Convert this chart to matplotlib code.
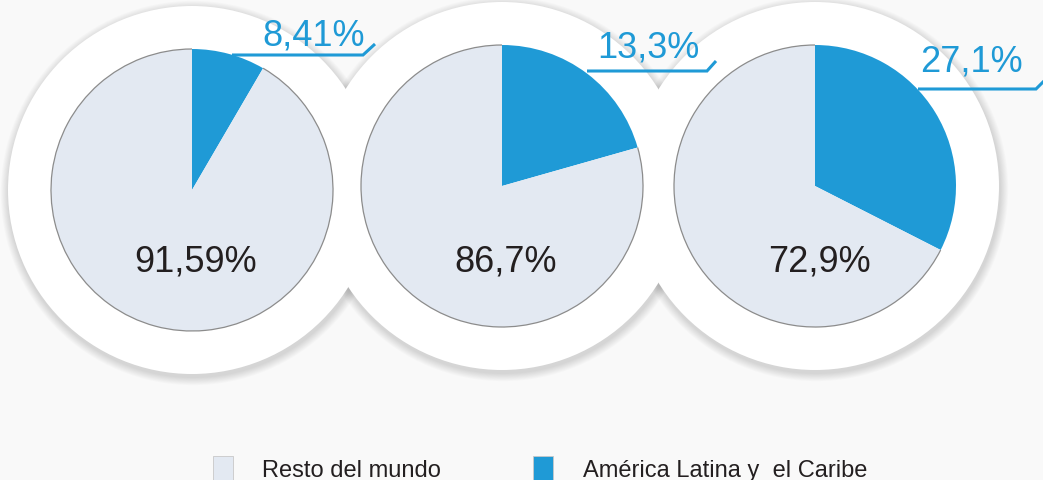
import matplotlib
matplotlib.use("Agg")
import matplotlib.pyplot as plt
from matplotlib.patches import Circle, Arc

# data
regions = ["Resto del mundo", "América Latina y  el Caribe"]
# share of the blue wedge as drawn in each pie (angles)
latam_share = [8.41, 20.6, 32.5]
latam_labels = ["8,41%", "13,3%", "27,1%"]
rest_labels = ["91,59%", "86,7%", "72,9%"]

W, H = 1043, 481
BG = "#f9f9f9"
LIGHT = "#e3e9f2"
BLUE = "#1f9ad6"
EDGE = "#8c8c8c"
DARK = "#231f20"

plt.rcParams['font.family'] = ['Liberation Sans', 'DejaVu Sans']

fig = plt.figure(figsize=(W / 100, H / 100), dpi=100, facecolor=BG)
ax = fig.add_axes([0, 0, 1, 1])
ax.set_facecolor(BG)

def Y(y):  # pixel row -> data y
    return H - y

centers = [(192, 191), (502, 187), (815, 187)]
r_pie = 141
r_halo = 184

# soft shadows under the white halos
for cx, cy in centers:
    for k in range(9):
        ax.add_patch(Circle((cx + 1, Y(cy) - 3), r_halo + 1 + k * 0.9,
                            color="#000000", alpha=0.014, lw=0, zorder=1))
for cx, cy in centers:
    ax.add_patch(Circle((cx, Y(cy)), r_halo, color="white", lw=0, zorder=2))

handles = None
for i, (cx, cy) in enumerate(centers):
    f = latam_share[i]
    wedges, _ = ax.pie([f, 100 - f], colors=[BLUE, LIGHT], startangle=90,
                       counterclock=False, center=(cx, Y(cy)), radius=r_pie,
                       wedgeprops=dict(linewidth=0), frame=True)
    for w in wedges:
        w.set_zorder(3)
    if handles is None:
        handles = [wedges[1], wedges[0]]
    # grey outline only along the light part
    lw_ = wedges[1]
    ax.add_patch(Arc((cx, Y(cy)), 2 * r_pie, 2 * r_pie, theta1=lw_.theta1,
                     theta2=lw_.theta2, color=EDGE, lw=0.9, zorder=4))

    ax.text(cx + 4, Y(262), rest_labels[i], fontsize=26, color=DARK,
            ha="center", va="center", zorder=5)

# callout labels for the blue share
callouts = [  # text centre, line start x, line y, corner x, end (x, y)
    ((314, 36), 232, 56, 363, (375, 45)),
    ((648, 48), 587, 72, 707, (716, 62)),
    ((971, 62), 918, 90, 1036, (1045, 81)),
]
for i, ((tx, ty), x0, ly, xc, (xe, ye)) in enumerate(callouts):
    ax.text(tx, Y(ty), latam_labels[i], fontsize=26, color=BLUE,
            ha="center", va="center", zorder=6)
    ax.plot([x0, xc, xe], [Y(ly), Y(ly), Y(ye)], color=BLUE, lw=2.2,
            solid_capstyle="butt", solid_joinstyle="miter", zorder=6)

ax.set_xlim(0, W)
ax.set_ylim(0, H)
ax.set_aspect("equal")
ax.axis("off")

leg = ax.legend(handles, regions, loc="upper left",
                bbox_to_anchor=(201 / W, 1 - 445 / H), ncol=2, frameon=False,
                fontsize=17, handlelength=0.85, handleheight=1.25,
                handletextpad=1.25, columnspacing=3.9, borderpad=0,
                labelcolor=DARK)
for h in leg.legend_handles:
    h.set_edgecolor("#c8c8c8")
    h.set_linewidth(0.6)

fig.savefig("out.png", dpi=100, facecolor=BG)
